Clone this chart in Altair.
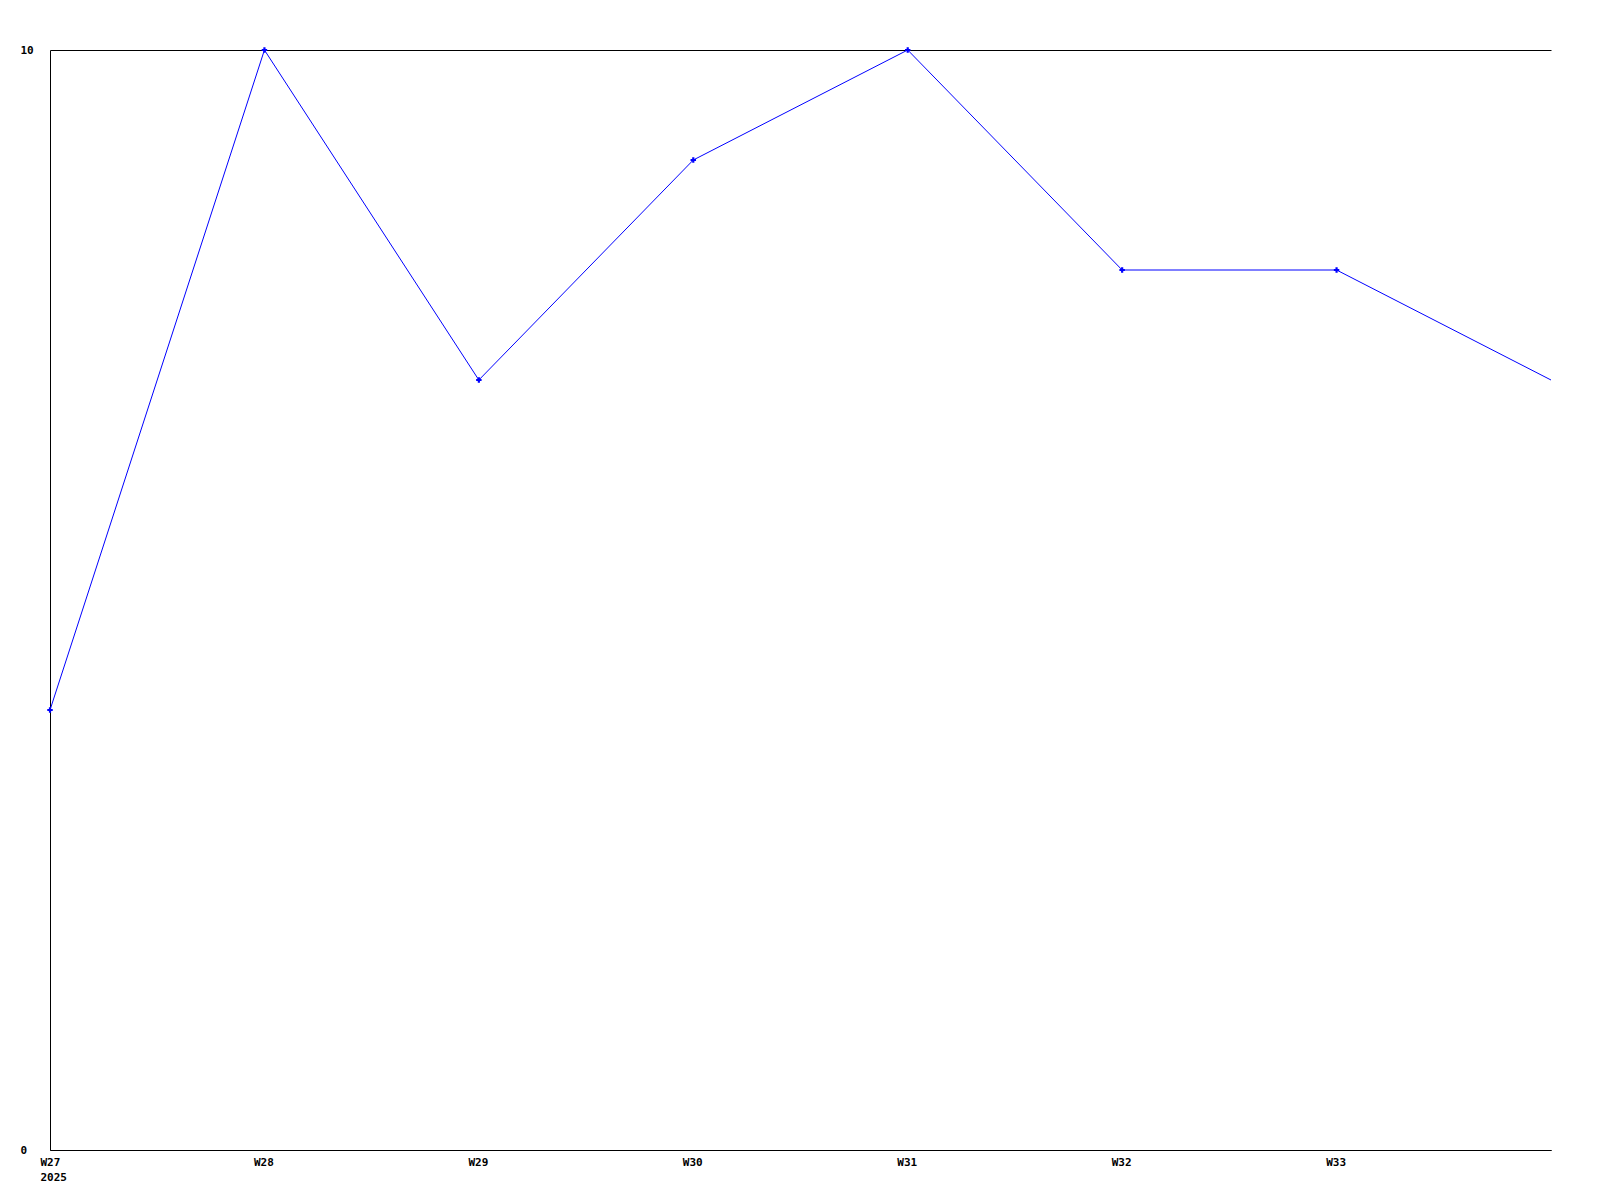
import altair as alt
import pandas as pd

weeks = ["W27", "W28", "W29", "W30", "W31", "W32", "W33", "W34"]
values = [4, 10, 7, 9, 10, 8, 8, 7]
year_label = "2025"
shown_weeks = weeks[:-1]
y_ticks = [0, 10]

df = pd.DataFrame({"week": weeks, "value": values})
df["marker"] = [w in shown_weeks for w in weeks]

FONT = "DejaVu Sans Mono"

x = alt.X(
    "week:O",
    sort=weeks,
    scale=alt.Scale(type="point", padding=0),
    axis=alt.Axis(
        title=None,
        values=shown_weeks,
        labelAngle=0,
        ticks=False,
        grid=False,
        domainColor="black",
        labelFont=FONT,
        labelFontSize=11,
        labelFontWeight="bold",
        labelColor="black",
        labelPadding=6,
        labelLineHeight=15,
        labelAlign={"condition": {"test": f"datum.value == '{weeks[0]}'", "value": "left"}, "value": "center"},
        labelOffset={"condition": {"test": f"datum.value == '{weeks[0]}'", "value": -10}, "value": -1},
        labelExpr=f"datum.value == '{weeks[0]}' ? ['{weeks[0]}', '{year_label}'] : datum.label",
        labelOverlap=False,
    ),
)
y = alt.Y(
    "value:Q",
    scale=alt.Scale(domain=[0, 10], nice=False, zero=True),
    axis=alt.Axis(
        title=None,
        values=y_ticks,
        ticks=False,
        grid=True,
        gridColor="black",
        gridOpacity=1,
        gridWidth=1,
        domainColor="black",
        labelFont=FONT,
        labelFontSize=11,
        labelFontWeight="bold",
        labelColor="black",
        labelAlign="left",
        labelBaseline="middle",
        labelPadding=30,
    ),
)

line = alt.Chart(df).mark_line(color="#0000ff", strokeWidth=1, clip=False).encode(x=x, y=y)
pts = (
    alt.Chart(df)
    .transform_filter("datum.marker")
    .mark_point(shape="cross", size=30, filled=True, color="#0000ff", opacity=1)
    .encode(x=x, y=y)
)

chart = (
    alt.layer(line, pts)
    .properties(
        width=1501,
        height=1100,
        autosize=alt.AutoSizeParams(type="none"),
        padding={"left": 42, "top": 42, "right": 40, "bottom": 42},
        background="white",
    )
    .configure_view(stroke=None)
)

chart.save("out.html", embed_options={"renderer": "svg", "actions": False})
